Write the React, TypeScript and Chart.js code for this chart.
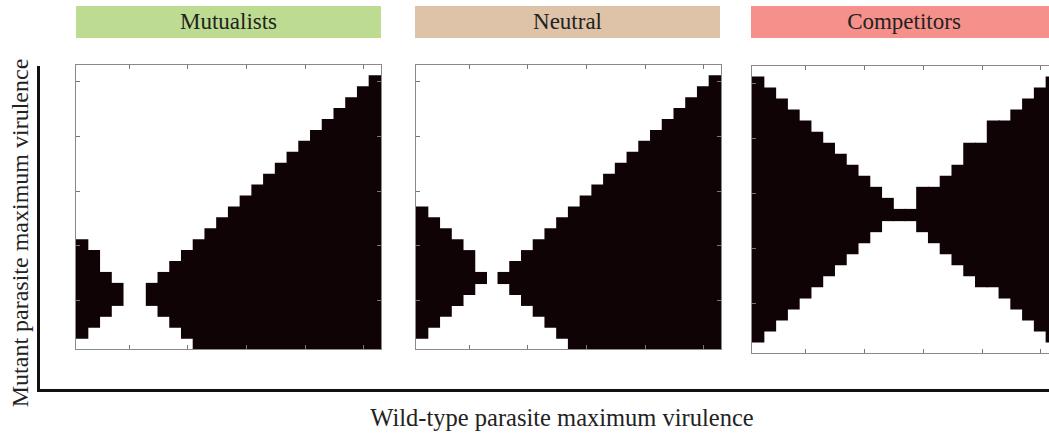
import React, { useEffect, useRef } from "react";
import { Chart, registerables } from "chart.js";
Chart.register(...registerables);

// ---------- data ----------
const columnLabels = ["0","1","2","3","4","5","6","7","8","9","10","11","12","13","14","15","16","17","18","19","20","21","22","23","24","25"];
const rowCount = 26;
const tickColumns = [4, 9, 14, 19, 24];
const tickRows = [4, 9, 14, 19, 24];

const panelTitles = ["Mutualists", "Neutral", "Competitors"];
const titleColors = ["#bddc91", "#dfc3a8", "#f5908a"];

// lowest and highest black row (inclusive) in each column; null = no black cell
const mutualistsLow: (number | null)[] = [1, 2, 3, 4, null, null, 4, 3, 2, 1, 0, 0, 0, 0, 0, 0, 0, 0, 0, 0, 0, 0, 0, 0, 0, 0];
const mutualistsHigh: (number | null)[] = [9, 8, 6, 5, null, null, 5, 6, 7, 8, 9, 10, 11, 12, 13, 14, 15, 16, 17, 18, 19, 20, 21, 22, 23, 24];

const neutralLow: (number | null)[] = [1, 2, 3, 4, 5, 6, null, 6, 5, 4, 3, 2, 1, 0, 0, 0, 0, 0, 0, 0, 0, 0, 0, 0, 0, 0];
const neutralHigh: (number | null)[] = [12, 11, 10, 9, 8, 6, null, 6, 7, 8, 9, 10, 11, 12, 13, 14, 15, 16, 17, 18, 19, 20, 21, 22, 23, 24];

const competitorsLow: (number | null)[] = [1, 2, 3, 4, 5, 6, 7, 8, 9, 10, 11, 12, 12, 12, 11, 10, 9, 8, 7, 6, 6, 5, 4, 3, 2, 1];
const competitorsHigh: (number | null)[] = [24, 23, 22, 21, 20, 19, 18, 17, 16, 15, 14, 13, 12, 12, 14, 14, 15, 16, 18, 18, 20, 20, 21, 22, 23, 24];

const yAxisTitle = "Mutant parasite maximum virulence";
const xAxisTitle = "Wild-type parasite maximum virulence";

// ---------- style ----------
const CELL = "#100306";
const FRAME = "#8a8a8a";
const SERIF = "\"Liberation Serif\", \"Times New Roman\", Times, serif";

const framePlugin = {
  id: "frameTicks",
  beforeDatasetsDraw(chart: any) {
    const { ctx, chartArea: a } = chart;
    ctx.save();
    ctx.strokeStyle = FRAME;
    ctx.lineWidth = 1;
    ctx.strokeRect(a.left - 0.5, a.top - 0.5, a.right - a.left + 1, a.bottom - a.top + 1);
    ctx.restore();
  },
  afterDatasetsDraw(chart: any) {
    const { ctx, chartArea: a, scales } = chart;
    ctx.save();
    ctx.strokeStyle = "#777";
    ctx.lineWidth = 1;
    ctx.beginPath();
    for (const c of tickColumns) {
      const px = Math.round(scales.x.getPixelForValue(c)) + 0.5;
      ctx.moveTo(px, a.top);
      ctx.lineTo(px, a.top + 4);
      ctx.moveTo(px, a.bottom);
      ctx.lineTo(px, a.bottom - 4);
    }
    for (const r of tickRows) {
      const py = Math.round(scales.y.getPixelForValue(r + 0.5)) + 0.5;
      ctx.moveTo(a.left, py);
      ctx.lineTo(a.left + 4, py);
      ctx.moveTo(a.right, py);
      ctx.lineTo(a.right - 4, py);
    }
    ctx.stroke();
    ctx.restore();
  },
};

type PanelProps = {
  low: (number | null)[];
  high: (number | null)[];
  left: number;
  top: number;
  width: number;
  height: number;
};

function Panel({ low, high, left, top, width, height }: PanelProps) {
  const ref = useRef<HTMLCanvasElement>(null);
  useEffect(() => {
    if (!ref.current) return;
    const data = low.map((l, i) => (l === null || high[i] === null ? null : [l, (high[i] as number) + 1]));
    const chart = new Chart(ref.current, {
      type: "bar",
      data: {
        labels: columnLabels,
        datasets: [
          {
            data: data as any,
            backgroundColor: CELL,
            borderWidth: 0,
            barPercentage: 1,
            categoryPercentage: 1,
            inflateAmount: 0.6,
          } as any,
        ],
      },
      options: {
        animation: false,
        responsive: false,
        maintainAspectRatio: false,
        events: [],
        layout: { padding: 1 },
        plugins: { legend: { display: false }, tooltip: { enabled: false } },
        scales: {
          x: { display: false },
          y: { display: false, min: 0, max: rowCount },
        },
      },
      plugins: [framePlugin],
    });
    return () => chart.destroy();
  }, []);
  return (
    <canvas
      ref={ref}
      width={width + 2}
      height={height + 2}
      style={{ position: "absolute", left: left - 1, top: top - 1, width: width + 2, height: height + 2 }}
    />
  );
}

function TitleBox({ text, color, left, width }: { text: string; color: string; left: number; width: number }) {
  return (
    <div
      style={{
        position: "absolute",
        left,
        top: 6,
        width,
        height: 32,
        background: color,
        color: "#222",
        fontFamily: SERIF,
        fontSize: 23,
        lineHeight: "32px",
        textAlign: "center",
      }}
    >
      {text}
    </div>
  );
}

export default function App() {
  return (
    <div style={{ position: "absolute", left: 0, top: 0, width: 1049, height: 437, overflow: "hidden", background: "#fff" }}>
      <TitleBox text={panelTitles[0]} color={titleColors[0]} left={76} width={305} />
      <TitleBox text={panelTitles[1]} color={titleColors[1]} left={415} width={305} />
      <TitleBox text={panelTitles[2]} color={titleColors[2]} left={751} width={306} />

      <Panel low={mutualistsLow} high={mutualistsHigh} left={76} top={65} width={305} height={284} />
      <Panel low={neutralLow} high={neutralHigh} left={416} top={65} width={305} height={284} />
      <Panel low={competitorsLow} high={competitorsHigh} left={752} top={66} width={306} height={287} />

      <div style={{ position: "absolute", left: 37, top: 66, width: 3, height: 326, background: "#111" }} />
      <div style={{ position: "absolute", left: 37, top: 389, width: 1012, height: 3, background: "#111" }} />

      <div
        style={{
          position: "absolute",
          left: 20 - 200,
          top: 233 - 15,
          width: 400,
          height: 30,
          lineHeight: "30px",
          textAlign: "center",
          transform: "rotate(-90deg)",
          fontFamily: SERIF,
          fontSize: 24,
          color: "#222",
          whiteSpace: "nowrap",
        }}
      >
        {yAxisTitle}
      </div>
      <div
        style={{
          position: "absolute",
          left: 562 - 250,
          top: 418 - 15,
          width: 500,
          height: 30,
          lineHeight: "30px",
          textAlign: "center",
          fontFamily: SERIF,
          fontSize: 24.5,
          color: "#222",
          whiteSpace: "nowrap",
        }}
      >
        {xAxisTitle}
      </div>
    </div>
  );
}
